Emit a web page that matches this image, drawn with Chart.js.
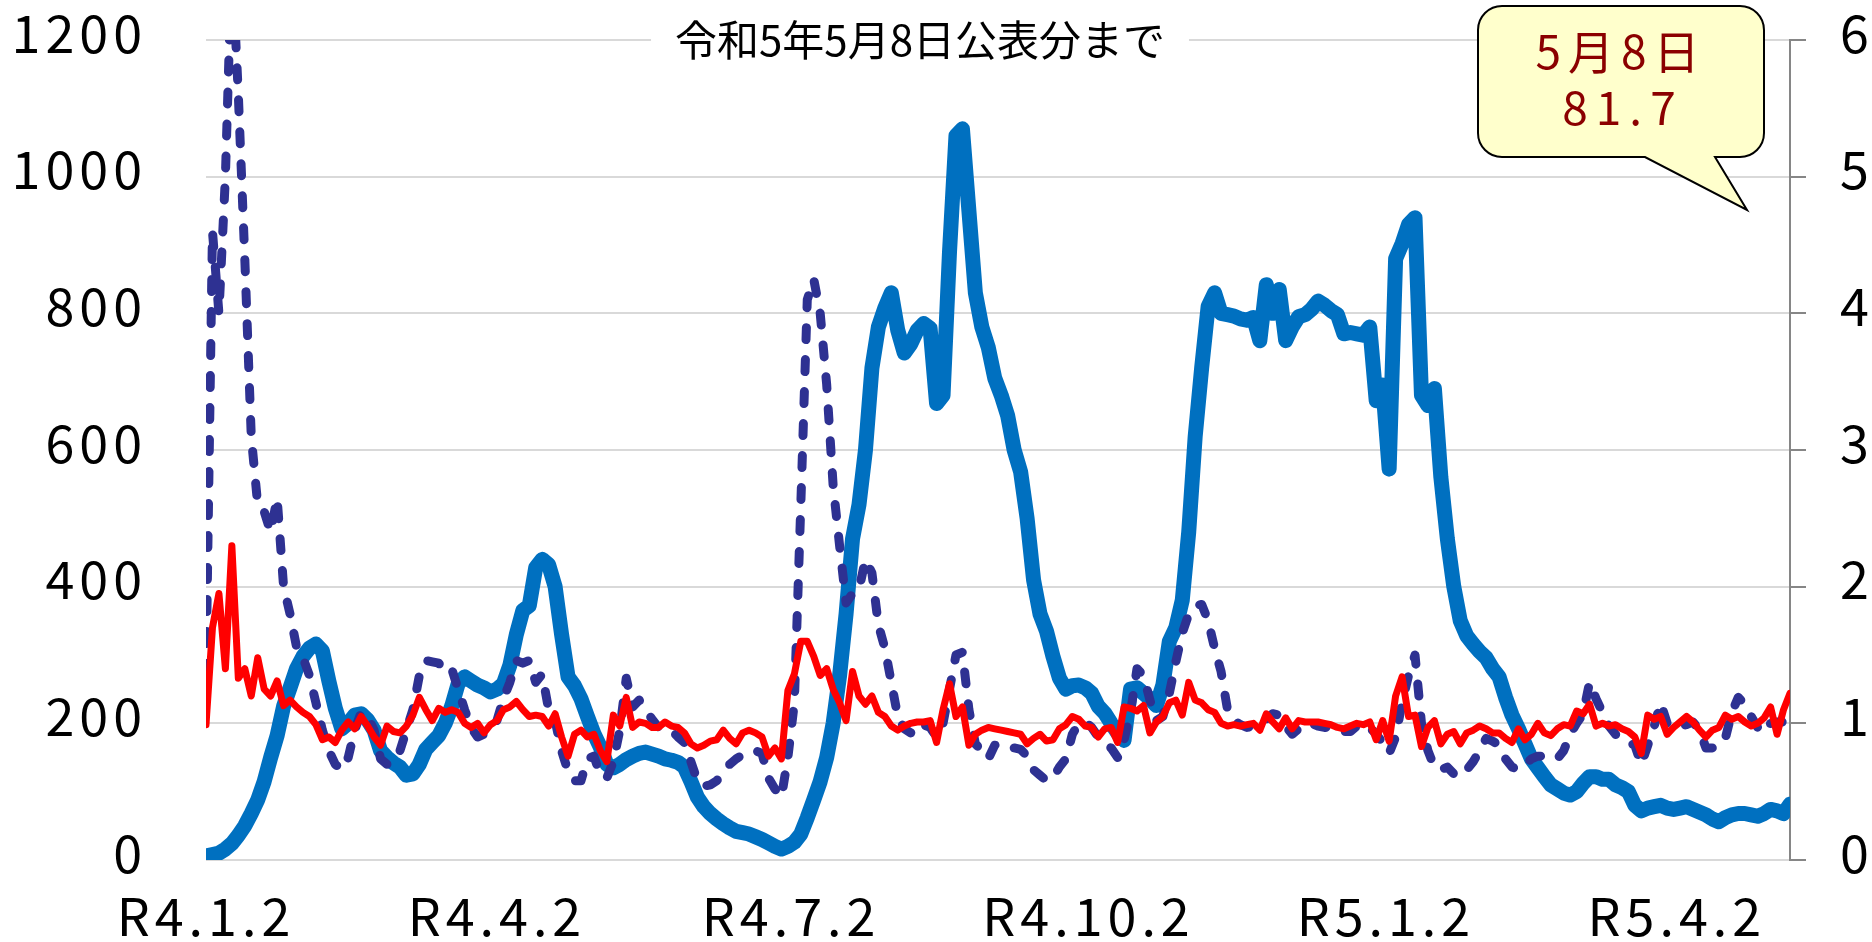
<!DOCTYPE html>
<html>
<head>
<meta charset="utf-8">
<script src="https://cdn.jsdelivr.net/npm/chart.js@4/dist/chart.umd.min.js"></script>
<style>
  html, body { margin: 0; padding: 0; background: #fff; }
  #wrap { width: 1872px; height: 942px; }
</style>
</head>
<body>
<div id="wrap"><canvas id="c" width="1872" height="942"></canvas></div>
<script>
// ---- data (one value every STEP days from R4.1.2 = 2022-01-02) ----
const STEP = 2;
const tickDays = [0, 90, 181, 273, 365, 455];
const tickLabels = ['R4.1.2', 'R4.4.2', 'R4.7.2', 'R4.10.2', 'R5.1.2', 'R5.4.2'];
const leftTicks = [0, 200, 400, 600, 800, 1000, 1200];
const rightTicks = [0, 1, 2, 3, 4, 5, 6];
const titleText = '令和5年5月8日公表分まで';
const calloutDate = '5月8日';

// thick blue line (left axis)
const blue = [
  6, 8, 10, 16, 24, 36, 50, 68, 88, 115,
  150, 182, 225, 252, 280, 298, 310, 316, 306, 262,
  222, 192, 200, 212, 214, 205, 190, 160, 150, 142,
  136, 124, 126, 140, 162, 172, 182, 200, 225, 258,
  268, 262, 256, 252, 246, 250, 258, 285, 330, 365,
  372, 428, 440, 432, 400, 330, 268, 255, 236, 210,
  185, 165, 140, 135, 140, 147, 152, 156, 158, 155,
  152, 148, 146, 143, 136, 115, 92, 78, 68, 60,
  53, 47, 42, 40, 38, 34, 30, 25, 20, 16,
  20, 26, 38, 62, 88, 115, 150, 200, 270, 360,
  470, 520, 600, 720, 780, 808, 830, 775, 742, 755,
  775, 785, 778, 668, 680, 890, 1060, 1070, 950, 830,
  780, 750, 705, 680, 650, 600, 568, 500, 410, 360,
  335, 298, 266, 250, 255, 256, 252, 244, 225, 215,
  200, 186, 175, 250, 252, 244, 236, 226, 256, 320,
  340, 380, 480, 620, 720, 810, 830, 800, 798, 796,
  792, 790, 794, 760, 842, 800, 835, 760, 780, 795,
  798, 806, 818, 812, 804, 798, 770, 772, 770, 768,
  780, 672, 695, 572, 880, 902, 930, 940, 680, 665,
  690, 560, 470, 400, 350, 328, 316, 305, 296, 280,
  268, 238, 212, 192, 170, 148, 135, 122, 110, 104,
  98, 95, 100, 112, 122, 122, 118, 118, 110, 106,
  100, 80, 72, 76, 78, 80, 76, 74, 76, 78,
  74, 70, 66, 60, 56, 62, 66, 68, 68, 66,
  64, 68, 74, 72, 68, 81.7
];

// dashed navy line (right axis)
const navy = [
  1.35, 4.6, 4.0, 5.0, 6.6, 5.6, 4.4, 3.1, 2.6, 2.55,
  2.4, 2.65, 2.0, 1.8, 1.56, 1.48, 1.35, 1.15, 0.95, 0.8,
  0.7, 0.66, 0.75, 0.95, 1.08, 1.05, 0.95, 0.74, 0.7, 0.72,
  0.8, 0.95, 1.1, 1.35, 1.46, 1.45, 1.44, 1.38, 1.4, 1.25,
  1.1, 0.97, 0.9, 0.92, 0.97, 1.02, 1.18, 1.3, 1.46, 1.44,
  1.46, 1.3, 1.36, 1.1, 1.02, 0.8, 0.65, 0.58, 0.58, 0.74,
  0.76, 0.62, 0.6, 0.72, 0.95, 1.33, 1.12, 1.17, 1.1, 1.03,
  0.97, 0.96, 0.95, 0.9, 0.86, 0.72, 0.58, 0.54, 0.55, 0.58,
  0.64, 0.7, 0.74, 0.77, 0.79, 0.8, 0.78, 0.6, 0.52, 0.46,
  0.75, 1.15, 2.6, 4.1, 4.25, 4.0, 3.48, 2.74, 2.3, 1.88,
  1.95, 1.98, 2.2, 2.1, 1.72, 1.55, 1.3, 1.05, 0.96, 0.93,
  1.0, 0.99, 0.97, 0.9, 1.0, 1.25, 1.5, 1.52, 1.1, 0.85,
  0.8, 0.74, 0.84, 0.85, 0.84, 0.82, 0.81, 0.76, 0.66, 0.62,
  0.58, 0.6, 0.68, 0.74, 0.92, 1.0, 1.01, 0.97, 0.9, 0.84,
  0.82, 0.75, 0.88, 1.08, 1.4, 1.35, 1.17, 1.02, 1.05, 1.22,
  1.45, 1.66, 1.8, 1.86, 1.87, 1.75, 1.55, 1.38, 1.1, 1.02,
  0.99, 0.97, 0.98, 1.0, 1.03, 1.07, 1.06, 0.98, 0.92, 0.96,
  1.0, 1.0, 0.98, 0.97, 0.97, 0.95, 0.94, 0.94, 0.98, 1.0,
  0.97, 0.92, 0.86, 0.78, 0.9, 1.15, 1.35, 1.5, 1.0, 0.8,
  0.68, 0.66, 0.68, 0.63, 0.61, 0.66, 0.72, 0.8, 0.89, 0.87,
  0.84, 0.74, 0.68, 0.66, 0.7, 0.74, 0.76, 0.76, 0.75, 0.74,
  0.8, 0.92, 1.0, 1.07, 1.3, 1.18, 1.08, 0.98, 0.92, 0.88,
  0.86, 0.84, 0.7, 0.84, 0.98, 1.15, 1.0, 0.97, 0.98, 0.99,
  1.01, 0.95, 0.82, 0.82, 0.83, 0.89, 1.08, 1.19, 1.14, 1.05,
  0.97, 0.93, 1.0, 1.01, 1.01, 1.03
];

// red line (right axis)
const red = [
  0.99, 1.7, 1.95, 1.4, 2.3, 1.33, 1.4, 1.2, 1.48, 1.25,
  1.2, 1.31, 1.13, 1.17, 1.12, 1.08, 1.05, 0.99, 0.88, 0.9,
  0.86, 0.95, 1.01, 0.96, 1.05, 0.98, 0.9, 0.84, 0.98, 0.94,
  0.93, 0.98, 1.06, 1.19, 1.1, 1.02, 1.11, 1.08, 1.1, 1.08,
  1.0, 0.97, 1.0, 0.93, 0.99, 1.02, 1.1, 1.12, 1.16, 1.1,
  1.05, 1.06, 1.05, 0.98, 1.07, 0.9, 0.76, 0.92, 0.95, 0.9,
  0.92, 0.8, 0.72, 1.06, 0.98, 1.19, 0.97, 1.01, 1.0, 0.97,
  0.97, 1.01, 0.98, 0.97, 0.93, 0.85, 0.82, 0.84, 0.87, 0.88,
  0.95, 0.89, 0.85, 0.93, 0.95, 0.93, 0.9, 0.76, 0.82, 0.74,
  1.24, 1.36, 1.6, 1.6, 1.49, 1.35, 1.4, 1.25, 1.15, 1.02,
  1.38, 1.2, 1.14, 1.2, 1.08, 1.05, 0.98, 0.95, 0.98, 1.0,
  1.01, 1.01, 1.02, 0.86, 1.1, 1.29, 1.05, 1.12, 0.84, 0.92,
  0.95, 0.97, 0.96, 0.95, 0.94, 0.93, 0.92, 0.85, 0.89, 0.92,
  0.87, 0.88, 0.96, 0.99, 1.05, 1.03, 0.98, 0.97, 0.9, 0.96,
  0.97, 0.86, 1.12, 1.11, 1.09, 1.13, 0.93, 1.01, 1.05, 1.15,
  1.17, 1.06, 1.3, 1.17, 1.15, 1.1, 1.08, 1.0, 0.98, 0.99,
  0.98, 0.99, 1.0, 0.95, 1.07, 1.01, 0.96, 1.04, 0.96, 1.02,
  1.01, 1.01, 1.01, 1.0, 0.99, 0.97, 0.96, 0.98, 1.0, 0.99,
  1.01, 0.88, 1.02, 0.87, 1.2, 1.34, 1.05, 1.06, 0.83, 0.97,
  1.02, 0.85, 0.92, 0.94, 0.85, 0.93, 0.95, 0.98, 0.96, 0.93,
  0.93, 0.89, 0.86, 0.96, 0.88, 0.92, 1.0, 0.93, 0.91, 0.96,
  0.99, 0.98, 1.09, 1.07, 1.14, 0.98, 1.0, 0.98, 0.99, 0.96,
  0.94, 0.9, 0.78, 1.06, 1.03, 1.05, 0.92, 0.97, 1.01, 1.05,
  1.01, 0.95, 0.9, 0.95, 0.97, 1.06, 1.03, 1.05, 1.01, 0.98,
  1.0, 1.04, 1.12, 0.92, 1.1, 1.22
];

const FONT = "'Noto Sans CJK JP', 'Noto Sans', sans-serif";
const toPts = arr => arr.map((v, i) => ({ x: i * STEP, y: v }));
const lastDay = (blue.length - 1) * STEP;
const noPad = s => { s.paddingTop = 0; s.paddingBottom = 0; s.paddingLeft = 0; s.paddingRight = 0; };

const spacing = {
  id: 'spacing',
  beforeDraw(chart) { chart.ctx.letterSpacing = '5px'; }
};

const overlay = {
  id: 'overlay',
  afterDraw(chart) {
    const ctx = chart.ctx;
    const area = chart.chartArea;
    ctx.save();
    ctx.letterSpacing = '0px';
    // title with white box over the top gridline
    ctx.font = '42px ' + FONT;
    const tw = ctx.measureText(titleText).width;
    const cx = 920, cy = area.top;
    ctx.fillStyle = '#ffffff';
    ctx.fillRect(cx - tw / 2 - 24, cy - 26, tw + 48, 52);
    ctx.fillStyle = '#000000';
    ctx.textAlign = 'center';
    ctx.textBaseline = 'middle';
    ctx.fillText(titleText, cx, cy);

    // callout bubble
    const x0 = 1478, y0 = 6, x1 = 1764, y1 = 157, r = 24;
    ctx.beginPath();
    ctx.moveTo(x0 + r, y0);
    ctx.lineTo(x1 - r, y0);
    ctx.arcTo(x1, y0, x1, y0 + r, r);
    ctx.lineTo(x1, y1 - r);
    ctx.arcTo(x1, y1, x1 - r, y1, r);
    ctx.lineTo(1715, y1);
    ctx.lineTo(1747, 210);
    ctx.lineTo(1645, y1);
    ctx.lineTo(x0 + r, y1);
    ctx.arcTo(x0, y1, x0, y1 - r, r);
    ctx.lineTo(x0, y0 + r);
    ctx.arcTo(x0, y0, x0 + r, y0, r);
    ctx.closePath();
    ctx.fillStyle = '#FFFFCC';
    ctx.fill();
    ctx.lineWidth = 2;
    ctx.strokeStyle = '#000000';
    ctx.stroke();
    ctx.fillStyle = '#8B0000';
    ctx.font = '46px ' + FONT;
    ctx.letterSpacing = '7px';
    ctx.fillText(calloutDate, 1621, 52);
    ctx.letterSpacing = '8px';
    ctx.fillText(String(blue[blue.length - 1]), 1623, 108);
    ctx.restore();
  }
};

new Chart(document.getElementById('c'), {
  type: 'line',
  data: {
    datasets: [
      {
        label: 'red', data: toPts(red), yAxisID: 'y1',
        borderColor: '#FF0000', borderWidth: 7, pointRadius: 0,
        borderJoinStyle: 'round', borderCapStyle: 'round', tension: 0
      },
      {
        label: 'navy', data: toPts(navy), yAxisID: 'y1',
        borderColor: '#2E3192', borderWidth: 9, pointRadius: 0,
        borderDash: [12, 20], borderCapStyle: 'round', borderJoinStyle: 'round', tension: 0
      },
      {
        label: 'blue', data: toPts(blue), yAxisID: 'y',
        borderColor: '#0070C0', borderWidth: 15, pointRadius: 0,
        borderJoinStyle: 'round', borderCapStyle: 'round', tension: 0
      }
    ]
  },
  options: {
    responsive: false,
    animation: false,
    devicePixelRatio: 1,
    layout: { padding: { top: 40, left: 0, right: 0, bottom: 0 } },
    plugins: { legend: { display: false }, tooltip: { enabled: false } },
    font: { family: FONT },
    scales: {
      x: {
        type: 'linear', min: 0, max: lastDay,
        grid: { display: false, drawTicks: false },
        border: { display: false },
        afterBuildTicks: s => { s.ticks = tickDays.map(v => ({ value: v })); },
        afterFit: s => { s.height = 82; noPad(s); },
        ticks: {
          autoSkip: false, maxRotation: 0, minRotation: 0, padding: 25,
          color: '#000', font: { family: FONT, size: 52 },
          callback: (v, i) => tickLabels[i]
        }
      },
      y: {
        position: 'left', min: 0, max: 1200,
        afterBuildTicks: s => { s.ticks = leftTicks.map(v => ({ value: v })); },
        afterFit: s => { s.width = 206; noPad(s); },
        grid: { color: '#D9D9D9', lineWidth: 2, drawTicks: false },
        border: { display: false },
        ticks: { padding: 59, labelOffset: -7, color: '#000', font: { family: FONT, size: 52 }, callback: v => String(v) }
      },
      y1: {
        position: 'right', min: 0, max: 6,
        afterBuildTicks: s => { s.ticks = rightTicks.map(v => ({ value: v })); },
        afterFit: s => { s.width = 82; noPad(s); },
        grid: { drawOnChartArea: false, drawTicks: true, tickLength: 16, color: '#868686', lineWidth: 2 },
        border: { display: true, color: '#868686', width: 2 },
        ticks: { padding: 34, labelOffset: -7, color: '#000', font: { family: FONT, size: 52 }, callback: v => String(v) }
      }
    }
  },
  plugins: [spacing, overlay]
});
</script>
</body>
</html>
